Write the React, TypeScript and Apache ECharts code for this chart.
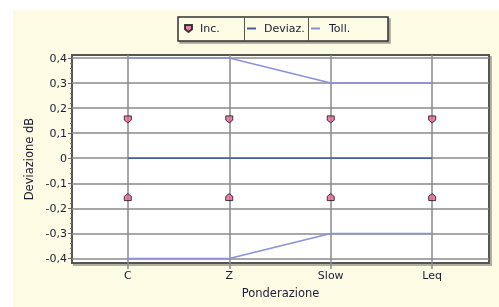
import React, { useEffect, useRef } from "react";
import * as echarts from "echarts";

const categories = ["C", "Z", "Slow", "Leq"];
const incUpper = [0.155, 0.155, 0.155, 0.155];
const incLower = [-0.155, -0.155, -0.155, -0.155];
const deviaz = [0, 0, 0, 0];
const tollUpper = [0.4, 0.4, 0.3, 0.3];
const tollLower = [-0.4, -0.4, -0.3, -0.3];
const yTicks = [-0.4, -0.3, -0.2, -0.1, 0, 0.1, 0.2, 0.3, 0.4];

const FONT = "DejaVu Sans";
const TEXT = "#1a1c3a";

const pts = (arr: number[]) => arr.map((v, i) => [i, v]);

export default function App() {
  const ref = useRef<HTMLDivElement>(null);
  useEffect(() => {
    if (!ref.current) return;
    const chart = echarts.init(ref.current, undefined, { renderer: "svg" });
    const markerStyle = { color: "#e8609c", borderColor: "#111", borderWidth: 1 };
    chart.setOption({
      animation: false,
      graphic: [
        { type: "rect", z: -10, shape: { x: 13, y: 10, width: 486, height: 297 }, style: { fill: "#fdfbe3" } },
        {
          type: "rect", z: 0,
          shape: { x: 178, y: 17, width: 210, height: 24 },
          style: { fill: "#fdfbe3", stroke: "#333", lineWidth: 1.5, shadowColor: "rgba(0,0,0,0.35)", shadowOffsetX: 2, shadowOffsetY: 2, shadowBlur: 1 },
        },
        { type: "line", z: 1, shape: { x1: 244.5, y1: 17, x2: 244.5, y2: 41 }, style: { stroke: "#555", lineWidth: 1 } },
        { type: "line", z: 1, shape: { x1: 308.5, y1: 17, x2: 308.5, y2: 41 }, style: { stroke: "#555", lineWidth: 1 } },
      ],
      legend: [
        {
          data: [{ name: "Inc.", icon: "path://M0,0 L10,0 L10,6 L5,10 L0,6 Z" }], left: 184, top: 23, padding: 0, itemWidth: 7, itemHeight: 8, z: 5,
          textStyle: { fontFamily: FONT, fontSize: 11, color: TEXT, padding: [0, 0, 0, 3] },
        },
        {
          data: ["Deviaz."], left: 247, top: 23, padding: 0, icon: "rect", itemWidth: 9, itemHeight: 2, z: 5,
          textStyle: { fontFamily: FONT, fontSize: 11, color: TEXT, padding: [0, 0, 0, 3] },
        },
        {
          data: ["Toll."], left: 311, top: 23, padding: 0, icon: "rect", itemWidth: 9, itemHeight: 2, z: 5,
          textStyle: { fontFamily: FONT, fontSize: 11, color: TEXT, padding: [0, 0, 0, 4] },
        },
      ],
      grid: {
        left: 72, right: 10, top: 55, bottom: 44,
        show: true, backgroundColor: "#ffffff", borderColor: "#555", borderWidth: 2,
        shadowColor: "rgba(0,0,0,0.3)", shadowOffsetX: 2, shadowOffsetY: 2, shadowBlur: 1,
      },
      xAxis: {
        type: "value", min: -0.55, max: 3.56,
        name: "Ponderazione", nameLocation: "middle", nameGap: 24,
        nameTextStyle: { fontFamily: FONT, fontSize: 11.5, color: TEXT },
        axisLine: { show: false, onZero: false },
        axisTick: { show: true, length: 6, lineStyle: { color: "#8a8a8a", width: 1.5 }, customValues: [0, 1, 2, 3] },
        axisLabel: {
          customValues: [0, 1, 2, 3], margin: 7,
          fontFamily: FONT, fontSize: 11, color: TEXT,
          formatter: (v: number) => (Math.abs(v - Math.round(v)) < 1e-6 ? categories[Math.round(v)] ?? "" : ""),
        },
        splitLine: { show: true, lineStyle: { color: "#8a8a8a", width: 1.5 } },
      },
      yAxis: {
        type: "value", min: -0.418, max: 0.412, splitNumber: 8,
        name: "Deviazione dB", nameLocation: "middle", nameGap: 36,
        nameTextStyle: { fontFamily: FONT, fontSize: 11.5, color: TEXT },
        axisLine: { show: false, onZero: false },
        axisTick: { show: true, length: 4, lineStyle: { color: "#666", width: 1 }, customValues: yTicks },
        minorTick: { show: true, splitNumber: 5, length: 2, lineStyle: { color: "#777", width: 1 } },
        axisLabel: {
          customValues: yTicks, margin: 5,
          fontFamily: FONT, fontSize: 11, color: TEXT,
          formatter: (v: number) => {
            const r = Math.round(v * 10) / 10;
            if (Math.abs(r) < 1e-9) return "0";
            return r.toFixed(1).replace(".", ",");
          },
        },
        splitLine: { show: true, lineStyle: { color: "#8a8a8a", width: 1.5 } },
      },
      series: [
        {
          name: "Toll.", type: "line", data: pts(tollUpper), showSymbol: false, z: 3,
          lineStyle: { color: "#8c90d8", width: 1.5 }, itemStyle: { color: "#8c90d8" },
        },
        {
          name: "Toll.", type: "line", data: pts(tollLower), showSymbol: false, z: 3,
          lineStyle: { color: "#8c90d8", width: 1.5 }, itemStyle: { color: "#8c90d8" },
        },
        {
          name: "Deviaz.", type: "line", data: pts(deviaz), showSymbol: false, z: 3,
          lineStyle: { color: "#4a5e9a", width: 1.5 }, itemStyle: { color: "#4a5e9a" },
        },
        {
          name: "Inc.", type: "scatter", data: pts(incUpper), symbol: "path://M0,0 L10,0 L10,6 L5,10 L0,6 Z", symbolSize: 7, z: 4,
          itemStyle: markerStyle,
        },
        {
          name: "Inc.", type: "scatter", data: pts(incLower), symbol: "path://M5,0 L10,4 L10,10 L0,10 L0,4 Z", symbolSize: 7, z: 4,
          itemStyle: markerStyle,
        },
      ],
    });
    return () => chart.dispose();
  }, []);
  return <div ref={ref} style={{ position: "fixed", left: 0, top: 0, width: 499, height: 307 }} />;
}
